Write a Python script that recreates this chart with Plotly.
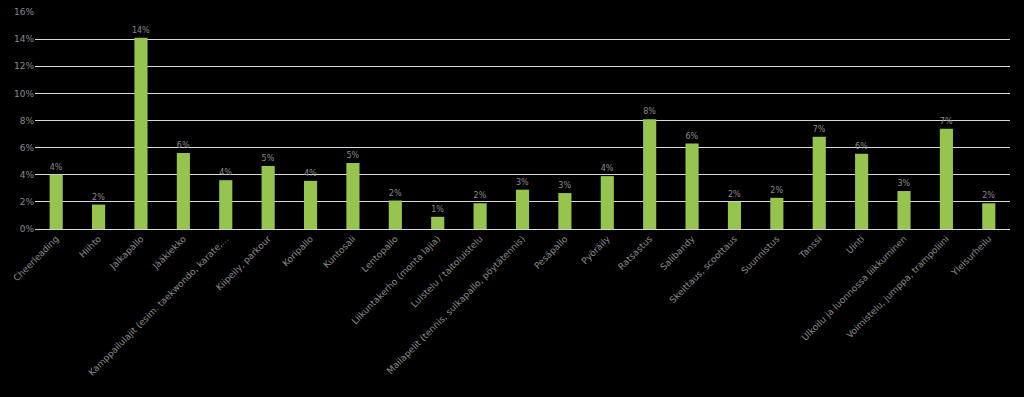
import plotly.graph_objects as go

categories = ["Cheerleading", "Hiihto", "Jalkapallo", "Jääkiekko",
              "Kamppailulajit (esim. taekwondo, karate,...", "Kiipeily, parkour",
              "Koripallo", "Kuntosali", "Lentopallo", "Liikuntakerho (monta lajia)",
              "Luistelu / taitoluistelu", "Mailapelit (tennis, sulkapallo, pöytätennis)",
              "Pesäpallo", "Pyöräily", "Ratsastus", "Salibandy", "Skeittaus, scoottaus",
              "Suunnistus", "Tanssi", "Uinti", "Ulkoilu ja luonnossa liikkuminen",
              "Voimistelu, jumppa, trampoliini", "Yleisurheilu"]
values = [0.040, 0.018, 0.141, 0.056, 0.036, 0.0465, 0.0355, 0.0487, 0.021, 0.009,
          0.019, 0.029, 0.0265, 0.039, 0.081, 0.063, 0.020, 0.023, 0.068, 0.0555,
          0.028, 0.074, 0.019]
y_ticks = [0, 0.02, 0.04, 0.06, 0.08, 0.10, 0.12, 0.14, 0.16]

fig = go.Figure(go.Bar(
    x=categories, y=values,
    marker=dict(color="#97C44F", line=dict(width=0)),
    text=values, texttemplate="%{y:.0%}", textposition="outside",
    textangle=0, constraintext="none",
    textfont=dict(size=8, color="#8a8a8a", family="DejaVu Sans"),
    cliponaxis=False,
))
fig.update_layout(
    width=1024, height=397,
    paper_bgcolor="#000000", plot_bgcolor="#000000",
    margin=dict(l=35, r=14, t=12, b=168, autoexpand=False),
    bargap=0.69, showlegend=False,
    font=dict(family="DejaVu Sans", color="#8a8a8a", size=9),
)
fig.update_yaxes(range=[0, 0.16], tickvals=y_ticks, tickformat=".0%",
                 showgrid=True, gridcolor="#d9d9d9", gridwidth=1,
                 zeroline=False, showline=False, ticks="",
                 tickfont=dict(size=9, color="#8a8a8a"))
fig.update_xaxes(tickangle=-45, showline=True, linecolor="#d9d9d9", linewidth=1,
                 ticks="", tickfont=dict(size=9, color="#8a8a8a"))
fig.write_html("out.html", config={"displayModeBar": False},
               post_script="document.body.style.margin='0';document.body.style.background='#000';document.body.style.overflow='hidden';")
